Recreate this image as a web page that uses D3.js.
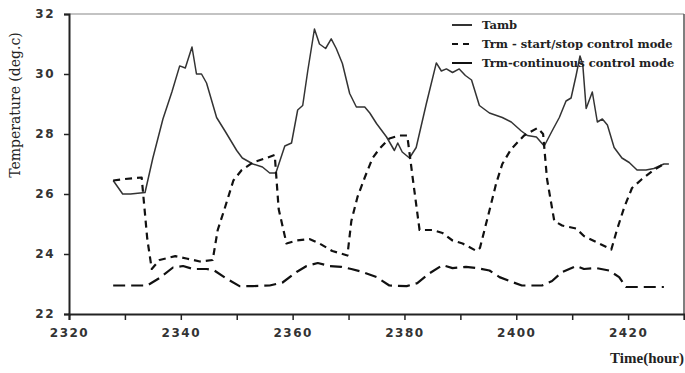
<!DOCTYPE html>
<html>
<head>
<meta charset="utf-8">
<script src="https://cdn.jsdelivr.net/npm/d3@7"></script>
<style>
html,body{margin:0;padding:0;background:#fff;}
svg{display:block;}
</style>
</head>
<body>
<svg id="chart" width="685" height="373"></svg>
<script>
// ---- data ----
const xTicks = [2320, 2340, 2360, 2380, 2400, 2420];
const yTicks = [22, 24, 26, 28, 30, 32];
const seriesNames = ["Tamb", "Trm - start/stop control mode", "Trm-continuous control mode"];

const tambHours = [2327.9,2329.6,2331,2333.6,2335,2336.8,2338.4,2339.8,2340.8,2342,2342.8,2343.7,2344.6,2346.4,2347.9,2350,2351,2352.9,2354.6,2355.9,2357,2358.6,2359.8,2360.9,2361.8,2362.7,2363.9,2364.8,2365.9,2366.9,2367.8,2368.9,2370.2,2371.4,2372.9,2373.8,2375,2376.8,2378.2,2378.8,2379.6,2380.9,2382.1,2383.9,2385.7,2386.6,2387.5,2388.6,2389.8,2390.9,2392,2393.4,2395.2,2397.5,2399.1,2400.9,2402,2403.6,2405,2406.4,2407.7,2408.9,2409.8,2410.7,2411.4,2411.9,2412.5,2413.6,2414.5,2415.4,2416.3,2417.5,2418.9,2420.2,2421.6,2423.2,2424.6,2426.4,2427.3];
const tambValues = [26.45,26.0,26.0,26.05,27.2,28.5,29.4,30.27,30.2,30.9,30.0,30.0,29.7,28.55,28.1,27.45,27.2,27.0,26.9,26.7,26.7,27.6,27.7,28.8,28.95,30.1,31.5,31.0,30.85,31.17,30.85,30.35,29.35,28.9,28.9,28.7,28.35,27.9,27.45,27.7,27.4,27.2,27.55,29.0,30.37,30.1,30.17,30.05,30.17,29.95,29.8,28.95,28.7,28.55,28.4,28.1,27.95,27.9,27.6,28.1,28.55,29.1,29.2,29.95,30.6,30.3,28.85,29.4,28.4,28.5,28.3,27.55,27.2,27.05,26.8,26.8,26.85,27.0,27.0];

const startStopHours = [2327.9,2330,2333,2334,2334.8,2336.2,2339,2341,2343.4,2345.7,2346.6,2347.9,2349.4,2350.9,2352.9,2355.3,2356.8,2357.5,2358.9,2360.7,2363,2364.8,2367.1,2369.8,2370.5,2371.6,2372.9,2374.3,2375.5,2377.3,2379.1,2380.5,2381.5,2382.7,2385,2386.8,2388.6,2390.4,2392.9,2393.5,2395.2,2396.4,2397.5,2399.1,2401.4,2403.8,2404.8,2405.5,2406.8,2408.2,2410.7,2412.1,2414.3,2417,2418,2419.3,2420.7,2422.5,2424.6,2426.4];
const startStopValues = [26.45,26.5,26.55,24.5,23.5,23.8,23.93,23.85,23.75,23.8,24.8,25.55,26.45,26.8,27.05,27.2,27.3,25.5,24.35,24.45,24.5,24.35,24.1,23.95,25.1,25.9,26.55,27.2,27.5,27.85,27.95,27.95,26.5,24.8,24.8,24.7,24.45,24.35,24.1,24.2,25.45,26.35,27.0,27.5,27.95,28.2,28.0,26.5,25.1,24.95,24.85,24.6,24.4,24.15,24.8,25.55,26.2,26.5,26.8,27.0];

const continuousHours = [2327.9,2334,2336.2,2338.6,2340.4,2342.2,2344.6,2346,2348,2350.5,2352.9,2355.9,2358.2,2360.7,2362.5,2364.5,2366.6,2368.7,2370.5,2372.5,2375,2377.3,2380.4,2382.3,2384.5,2386.8,2388.6,2391,2392.9,2395.2,2397,2398.8,2401,2404.6,2406.4,2408.2,2410.7,2412.1,2414.3,2416.6,2418.4,2419.6,2422,2426.4];
const continuousValues = [22.95,22.95,23.2,23.55,23.6,23.5,23.5,23.45,23.2,22.93,22.93,22.95,23.05,23.4,23.6,23.7,23.6,23.57,23.5,23.4,23.23,22.95,22.93,23.03,23.36,23.63,23.53,23.57,23.53,23.45,23.23,23.1,22.95,22.95,23.1,23.4,23.6,23.5,23.53,23.45,23.23,22.9,22.9,22.9];

// ---- drawing ----
(function () {
const svg = d3.select("#chart");
const pL = 69, pR = 684, pT = 14, pB = 314;
const x = d3.scaleLinear().domain([2320, 2430]).range([pL, pR]);
const y = d3.scaleLinear().domain([22, 32]).range([pB, pT]);

const tickFont = "bold 12px 'DejaVu Sans', sans-serif";

// frame (top & right)
svg.append("line").attr("x1", pL).attr("x2", pR).attr("y1", pT).attr("y2", pT)
  .attr("stroke", "#888").attr("stroke-width", 1.2);
svg.append("line").attr("x1", pR).attr("x2", pR).attr("y1", pT).attr("y2", pB)
  .attr("stroke", "#555").attr("stroke-width", 1.5);

// x axis
const xAxis = svg.append("g").attr("transform", `translate(0,${pB})`)
  .call(d3.axisBottom(x).tickValues(d3.range(2320, 2431, 10)).tickSize(6)
    .tickFormat(d => xTicks.includes(d) ? d : ""));
xAxis.select(".domain").attr("stroke", "#222").attr("stroke-width", 2);
xAxis.selectAll(".tick line").attr("stroke", "#222").attr("stroke-width", 1.5);
xAxis.selectAll(".tick text").attr("y", 14).style("font", tickFont)
  .style("letter-spacing", "1.5px").attr("fill", "#333");

// y axis
const yAxis = svg.append("g").attr("transform", `translate(${pL},0)`)
  .call(d3.axisLeft(y).tickValues(yTicks).tickSize(5).tickPadding(9));
yAxis.select(".domain").attr("stroke", "#222").attr("stroke-width", 2);
yAxis.selectAll(".tick line").attr("stroke", "#222").attr("stroke-width", 1.5);
yAxis.selectAll(".tick text").style("font", tickFont)
  .style("letter-spacing", "1.5px").attr("fill", "#333");

// axis titles
svg.append("text").attr("transform", "translate(20,105) rotate(-90)")
  .attr("text-anchor", "middle")
  .style("font", "14px 'DejaVu Serif', serif").attr("fill", "#222")
  .text("Temperature (deg.c)");
svg.append("text").attr("x", 684).attr("y", 363).attr("text-anchor", "end")
  .style("font", "bold 15px 'Liberation Serif', serif").attr("fill", "#222")
  .text("Time(hour)");

// series
const line = d3.line().x(d => x(d[0])).y(d => y(d[1]));
const styles = [
  {stroke: "#333", width: 1.5, dash: null},
  {stroke: "#111", width: 2.2, dash: "7,5"},
  {stroke: "#111", width: 2.2, dash: "12,6"}
];
const seriesData = [
  d3.zip(tambHours, tambValues),
  d3.zip(startStopHours, startStopValues),
  d3.zip(continuousHours, continuousValues)
];
seriesData.forEach((data, i) => {
  svg.append("path").datum(data).attr("d", line)
    .attr("fill", "none").attr("stroke", styles[i].stroke)
    .attr("stroke-width", styles[i].width)
    .attr("stroke-dasharray", styles[i].dash)
    .attr("stroke-linejoin", "round");
});

// legend
const legY = [25, 44, 63];
seriesNames.forEach((name, i) => {
  const g = svg.append("g");
  g.append("line").attr("x1", 452).attr("x2", 472).attr("y1", legY[i]).attr("y2", legY[i])
    .attr("stroke", styles[i].stroke).attr("stroke-width", 2)
    .attr("stroke-dasharray", i === 1 ? "6,5" : null);
  g.append("text").attr("x", 482).attr("y", legY[i] + 4)
    .style("font", "bold 11.5px 'DejaVu Serif', serif").attr("fill", "#222")
    .text(name);
});
})();
</script>
</body>
</html>
